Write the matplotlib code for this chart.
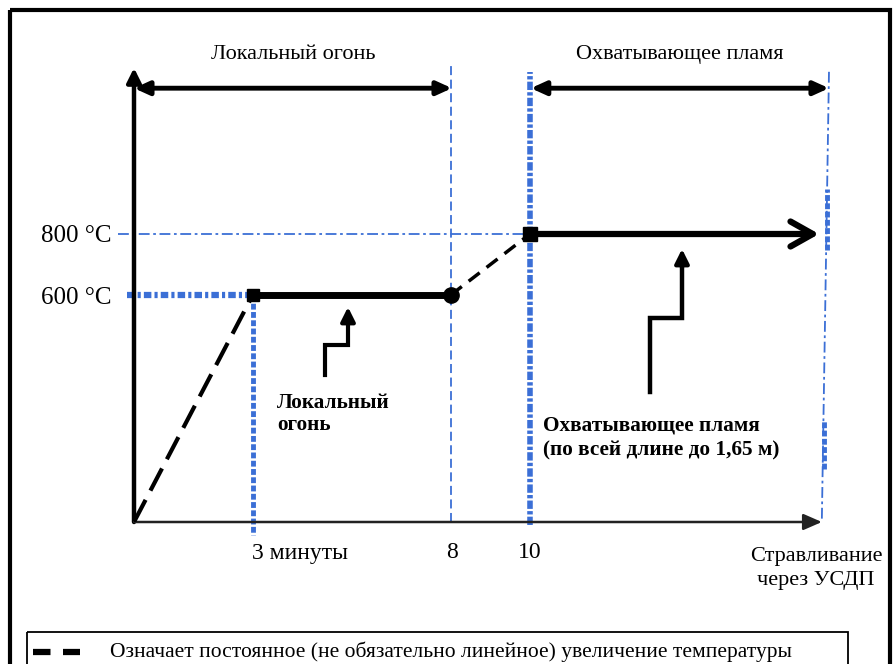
import numpy as np
import matplotlib
matplotlib.use('Agg')
import matplotlib.pyplot as plt
from matplotlib.patches import Rectangle

plt.rcParams['font.family'] = ['Liberation Serif', 'DejaVu Serif']

# time in minutes, temperature in degC
t_heat = [0, 3]
T_heat = [0, 600]
t_local = [3, 8]
T_local = [600, 600]
t_rise = [8, 10]
T_rise = [600, 800]
t_engulf = [10, 17.3]
T_engulf = [800, 800]
t_release = [17.55, 17.37]

y_ticks = [600, 800]
y_ticklabels = ['600 °C', '800 °C']
phase_names = ['Локальный огонь', 'Охватывающее пламя']
legend_text = 'Означает постоянное (не обязательно линейное) увеличение температуры'

blue = '#3b6fd6'
W, H = 894, 664

# the drawing is schematic: temperature axis is not linear
T_knots = [-1000, 0, 600, 800, 3000]
P_knots = [-378.3, 0, 227, 288, 959]
def fwd(T):
    return np.interp(T, T_knots, P_knots)
def inv(p):
    return np.interp(p, P_knots, T_knots)

fig = plt.figure(figsize=(W / 100, H / 100), dpi=100)

# overlay in pixel units for the frame and free text
ov = fig.add_axes([0, 0, 1, 1], zorder=0)
ov.set_xlim(0, W)
ov.set_ylim(H, 0)
ov.axis('off')

ax = fig.add_axes([134 / W, 142 / H, 706 / W, 482 / H], zorder=1)
ax.set_facecolor('none')
ax.set_yscale('function', functions=(fwd, inv))
ax.set_xlim(0, 706 / 39.6)
ax.set_ylim(0, float(inv(482)))
for s in ax.spines.values():
    s.set_visible(False)
ax.set_xticks([])
ax.set_yticks(y_ticks, y_ticklabels)
ax.tick_params(axis='y', length=0, pad=16, labelsize=18)
xa = ax.get_xaxis_transform()

# blue guide lines
ax.plot([-0.4, t_engulf[0]], [T_engulf[0]] * 2, color=blue, lw=1.3,
        ls=(0, (6, 2, 1.5, 2)), clip_on=False, zorder=1)
ax.plot([-0.18, t_local[0]], [T_local[0]] * 2, color=blue, lw=4.5,
        ls=(0, (1.2, 0.5, 0.5, 0.5)), clip_on=False, zorder=1)
ax.plot([t_local[0]] * 2, [T_local[0], -35], color=blue, lw=3.5,
        ls=(0, (1.2, 0.5)), clip_on=False, zorder=1)
ax.plot([t_local[1]] * 2, [0, 0.948], color=blue, lw=1.3,
        ls=(0, (5, 2.5)), transform=xa, clip_on=False, zorder=1)
ax.plot([t_rise[1]] * 2, [-0.006, 0.934], color=blue, lw=4,
        ls=(0, (1.5, 0.4, 0.6, 0.4)), transform=xa, clip_on=False, zorder=1)
ax.plot(t_release, [0.934, 0.005], color=blue, lw=1.3,
        ls=(0, (6, 2, 1.5, 2)), transform=xa, clip_on=False, zorder=1)
ax.plot([17.49, 17.49], [0.565, 0.69], color=blue, lw=3.5,
        ls=(0, (1.2, 0.5)), transform=xa, clip_on=False, zorder=1)
ax.plot([17.43, 17.43], [0.11, 0.21], color=blue, lw=3.5,
        ls=(0, (1.2, 0.5)), transform=xa, clip_on=False, zorder=1)

# axes arrows
ax.annotate('', xy=(0, 0.942), xytext=(0, 0), xycoords=xa,
            arrowprops=dict(arrowstyle='-|>,head_length=0.6,head_width=0.3', lw=3.2,
                            color='black', shrinkA=0, shrinkB=0, mutation_scale=14))
ax.annotate('', xy=(17.37, 0), xytext=(0, 0), xycoords=xa,
            arrowprops=dict(arrowstyle='-|>,head_length=0.8,head_width=0.35', lw=1.8,
                            color='#222222', shrinkA=0, shrinkB=0, mutation_scale=14))

# phase arrows on top
for x0, x1, name in [(0, 8.03, phase_names[0]), (10.02, 17.55, phase_names[1])]:
    ax.annotate('', xy=(x1, 0.9), xytext=(x0, 0.9), xycoords=xa,
                arrowprops=dict(arrowstyle='<|-|>,head_length=0.55,head_width=0.25', lw=3.5,
                                color='black', shrinkA=0, shrinkB=0, mutation_scale=16))
    ax.text((x0 + x1) / 2, 0.969, name, transform=xa, ha='center', va='center', fontsize=16)

# temperature curve
ax.plot(t_heat, T_heat, color='black', lw=3, ls=(0, (6, 2.5)), zorder=3)
ax.plot(t_local, T_local, color='black', lw=5, solid_capstyle='butt', zorder=3)
ax.plot(t_rise, T_rise, color='black', lw=2.5, ls=(0, (4, 2.5)), zorder=3)
ax.annotate('', xy=(t_engulf[1], T_engulf[1]), xytext=(t_engulf[0], T_engulf[0]),
            arrowprops=dict(arrowstyle='->,head_length=0.8,head_width=0.45', lw=4.5,
                            color='black', shrinkA=0, shrinkB=0, mutation_scale=20), zorder=3)
ax.plot([t_local[0]], [T_local[0]], marker='s', ms=9, color='black', zorder=4)
ax.plot([t_local[1]], [T_local[1]], marker='o', ms=11, color='black', zorder=4)
ax.plot([t_engulf[0]], [T_engulf[0]], marker='s', ms=10, color='black', zorder=4)

# time labels
ov.text(252, 553, '3 минуты', ha='left', va='center', fontsize=17)
ov.text(452, 553, '8', ha='center', va='center', fontsize=17)
ov.text(530, 553, '10', ha='center', va='center', fontsize=17)
ov.text(816, 556, 'Стравливание', ha='center', va='center', fontsize=16)
ov.text(816, 580, 'через УСДП', ha='center', va='center', fontsize=16)

# pointers with captions
ov.plot([325, 325, 348, 348], [375, 345, 345, 322], color='black', lw=3,
        solid_joinstyle='miter')
ov.annotate('', xy=(348, 307), xytext=(348, 325),
            arrowprops=dict(arrowstyle='-|>,head_length=0.6,head_width=0.3', lw=3,
                            color='black', shrinkA=0, shrinkB=0, mutation_scale=14))
ov.plot([650, 650, 682, 682], [392, 318, 318, 265], color='black', lw=3.2,
        solid_joinstyle='miter')
ov.annotate('', xy=(682, 249), xytext=(682, 268),
            arrowprops=dict(arrowstyle='-|>,head_length=0.6,head_width=0.3', lw=3,
                            color='black', shrinkA=0, shrinkB=0, mutation_scale=14))
ov.text(277, 403, 'Локальный', ha='left', va='center', fontsize=15.3, fontweight='bold')
ov.text(277, 425, 'огонь', ha='left', va='center', fontsize=15.3, fontweight='bold')
ov.text(543, 425, 'Охватывающее пламя', ha='left', va='center', fontsize=15.3,
        fontweight='bold')
ov.text(543, 450, '(по всей длине до 1,65 м)', ha='left', va='center', fontsize=15.3,
        fontweight='bold')

# frame and legend box
ov.add_patch(Rectangle((10, 10), 880, 700, fill=False, lw=3, ec='black', clip_on=False))
ov.add_patch(Rectangle((27, 632), 821, 60, fill=False, lw=1.3, ec='black', clip_on=False))
ov.plot([33, 80], [652, 652], color='black', lw=4.5, ls=(0, (2.8, 2)),
        solid_capstyle='butt')
ov.text(110, 652, legend_text, ha='left', va='center', fontsize=15.5)

fig.savefig('out.png', dpi=100)
